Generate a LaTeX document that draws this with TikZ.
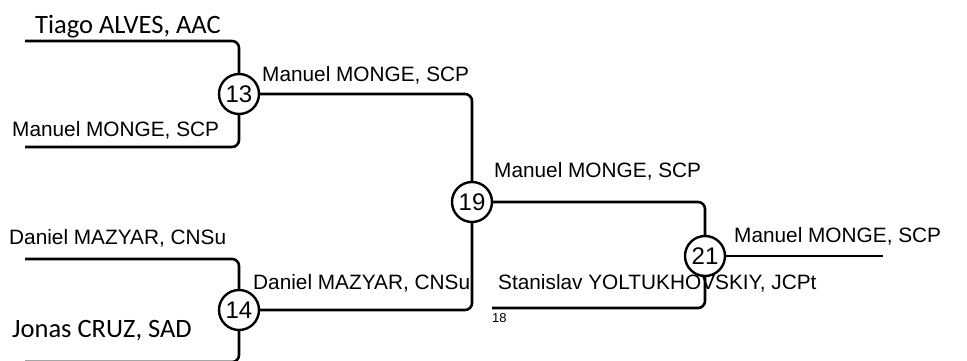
\documentclass[tikz,border=0pt]{standalone}
\usepackage{fontspec}
\setmainfont{Liberation Sans}
\newfontfamily\calfont{Carlito}
\begin{document}
\begin{tikzpicture}[x=1pt,y=-1pt,
  wire/.style={line width=2.6pt,rounded corners=7pt},
  match/.style={circle,draw,line width=2.4pt,minimum size=40pt,inner sep=0pt,font=\fontsize{24}{24}\selectfont,fill=white},
  lbl/.style={anchor=base west,inner sep=0pt,font=\fontsize{20.8}{21}\selectfont},
  clbl/.style={anchor=base west,inner sep=0pt,font=\calfont\fontsize{26.5}{26}\selectfont}]
\useasboundingbox (0,0) rectangle (967,360);
% circles
\node[match] (c13) at (239,94) {13};
\node[match] (c14) at (239,310) {14};
\node[match] (c19) at (472,202) {19};
\node[match] (c21) at (705,256) {21};
% free ends
\coordinate (p1) at (25,41);
\coordinate (p2) at (25,147);
\coordinate (p3) at (25,259);
\coordinate (p4) at (25,362);
\coordinate (p18) at (492,308);
\coordinate (pout) at (883,256);
% wires
\draw[wire] (p1) -| (c13);
\draw[wire] (p2) -| (c13);
\draw[wire] (p3) -| (c14);
\draw[wire] (p4) -| (c14);
\draw[wire] (c13) -| (c19);
\draw[wire] (c14) -| (c19);
\draw[wire] (c19) -| (c21);
\draw[wire] (p18) -| (c21);
\draw[wire] (c21) -- (pout);
% labels
\node[clbl] (t1) at (35,33) {Tiago ALVES, AAC};
\node[lbl] (t2) at (12,136) {Manuel MONGE, SCP};
\node[lbl] (t3) at (9,244) {Daniel MAZYAR, CNSu};
\node[clbl] (t4) at (12,337) {Jonas CRUZ, SAD};
\node[lbl] (t5) at (262,81) {Manuel MONGE, SCP};
\node[lbl] (t6) at (253,289) {Daniel MAZYAR, CNSu};
\node[lbl] (t7) at (494,177) {Manuel MONGE, SCP};
\node[lbl] (t8) at (498,289) {Stanislav YOLTUKHOVSKIY, JCPt};
\node[lbl] (t9) at (734,242) {Manuel MONGE, SCP};
\node[anchor=base west,inner sep=0pt,font=\fontsize{13}{13}\selectfont] (t10) at (492,322) {18};
\end{tikzpicture}
\end{document}
